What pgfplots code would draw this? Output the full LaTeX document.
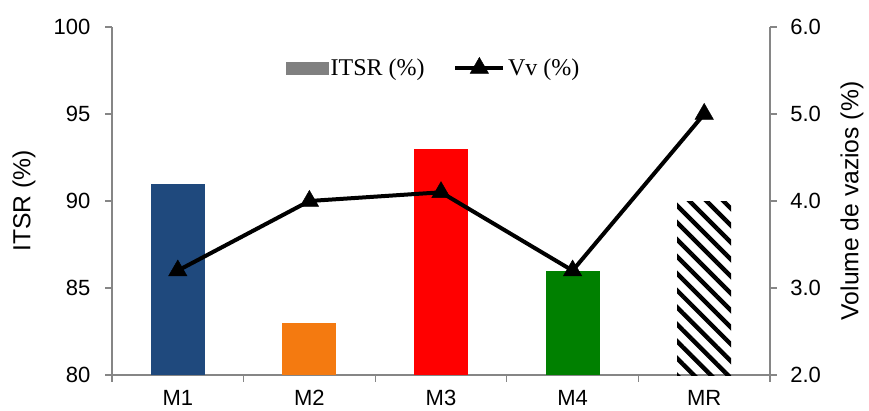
\documentclass[border=0pt]{standalone}
\usepackage{pgfplots}
\pgfplotsset{compat=1.18}
\usepackage{fontspec}
\setmainfont{Liberation Sans}
\newfontfamily\timesfont{Liberation Serif}
\usetikzlibrary{patterns.meta}
\definecolor{cMa}{HTML}{1F497D}
\definecolor{cMb}{HTML}{F47A10}
\definecolor{cMc}{HTML}{FF0000}
\definecolor{cMd}{HTML}{008000}
\definecolor{axisgray}{HTML}{868686}
\definecolor{leggray}{HTML}{808080}
\pgfplotsset{mylineleg/.style={legend image code/.code={\draw[mark repeat=2,mark phase=2,##1] plot coordinates {(0pt,0pt) (18pt,0pt) (36pt,0pt)};}}}
\begin{document}
\begin{tikzpicture}
\begin{axis}[
  at={(0,0)}, anchor=south west,
  scale only axis, width=493.5pt, height=261pt,
  xmin=-0.5, xmax=4.5, ymin=80, ymax=100,
  axis y line*=left, axis x line*=bottom,
  axis line style={axisgray, line width=0.9pt},
  tick align=outside,
  xtick={0,1,2,3,4}, xticklabels={M1,M2,M3,M4,MR},
  major x tick style={draw=none},
  minor xtick={-0.5,0.5,1.5,2.5,3.5,4.5},
  minor tick length=5pt, major tick length=5pt,
  minor x tick style={axisgray, line width=0.9pt},
  ytick={80,85,90,95,100},
  y tick style={axisgray, line width=0.9pt},
  tick label style={font=\fontsize{16.5}{18}\selectfont},
  /pgf/number format/assume math mode=true,
  yticklabel style={anchor=east, inner sep=0pt, xshift=-11pt},
  xticklabel style={anchor=center, inner sep=0pt, yshift=-12pt},
  ylabel={ITSR (\%)},
  every axis y label/.style={at={([xshift=-66pt]axis description cs:0,0.5)}, anchor=center, rotate=90, font=\fontsize{18.5}{20}\selectfont},
  ybar, bar width=40.5pt,
]
\addplot[fill=cMa, draw=none, bar shift=0pt] coordinates {(0,91)};
\addplot[fill=cMb, draw=none, bar shift=0pt] coordinates {(1,83)};
\addplot[fill=cMc, draw=none, bar shift=0pt] coordinates {(2,93)};
\addplot[fill=cMd, draw=none, bar shift=0pt] coordinates {(3,86)};
\addplot[fill=white, draw=none, bar shift=0pt, pattern={Lines[angle=-45, distance=9pt, line width=3.3pt]}, pattern color=black] coordinates {(4,90)};
\end{axis}
\begin{axis}[
  at={(0,0)}, anchor=south west,
  scale only axis, width=493.5pt, height=261pt,
  xmin=-0.5, xmax=4.5, ymin=2, ymax=6,
  axis y line*=right, axis x line=none,
  axis line style={axisgray, line width=0.9pt},
  tick align=outside, major tick length=5pt,
  ytick={2,3,4,5,6},
  y tick style={axisgray, line width=0.9pt},
  tick label style={font=\fontsize{16.5}{18}\selectfont},
  /pgf/number format/assume math mode=true,
  yticklabel style={anchor=west, inner sep=0pt, xshift=10pt, /pgf/number format/.cd, fixed, fixed zerofill, precision=1},
  ylabel={Volume de vazios (\%)},
  every axis y label/.style={at={([xshift=61.5pt]axis description cs:1,0.5)}, anchor=center, rotate=90, font=\fontsize{18.5}{20}\selectfont},
  clip=false,
  legend columns=2,
  legend style={at={(0.489,0.882)}, anchor=center, draw=none, fill=none,
    font=\timesfont\fontsize{18}{20}\selectfont,
    /tikz/every even column/.append style={column sep=19.5pt},
    nodes={inner sep=2pt}},
  legend cell align=left,
]
\addlegendimage{legend image code/.code={\fill[leggray] (0pt,-4.5pt) rectangle (31.5pt,4.5pt);}}
\addlegendentry{ITSR (\%)}
\addplot[black, line width=3pt, mark=triangle*, mark size=8pt, mark options={solid, line width=0.3pt}, mylineleg]
  coordinates {(0,3.2) (1,4.0) (2,4.1) (3,3.2) (4,5.0)};
\addlegendentry{Vv (\%)}
\end{axis}
\pgfresetboundingbox
\path (-84pt,-27pt) rectangle (567.75pt,281.25pt);
\end{tikzpicture}
\end{document}
